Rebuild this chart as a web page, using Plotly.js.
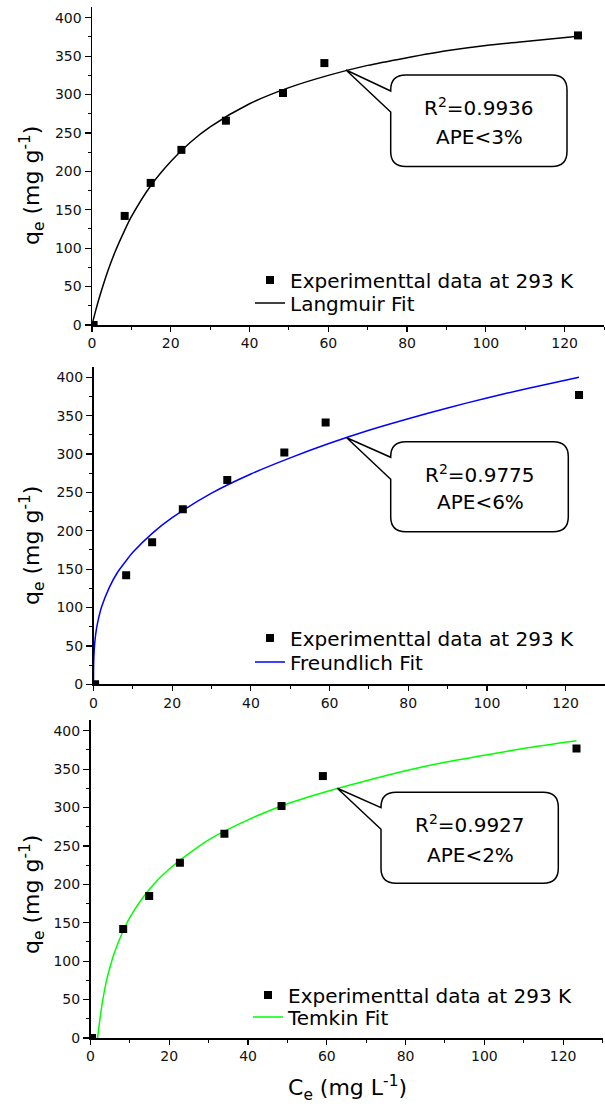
<!DOCTYPE html>
<html>
<head>
<meta charset="utf-8">
<script src="https://cdn.plot.ly/plotly-3.0.1.min.js"></script>
<style>html,body{margin:0;padding:0;background:#fff;}#chart{width:605px;height:1108px;}</style>
</head>
<body>
<div id="chart"></div>
<script>
// ---- data ----
const ceData = [0.4, 8.3, 14.9, 22.7, 34.0, 48.5, 59.0, 123.4];
const qeData = [0, 142, 185, 228, 266, 302, 341, 377];

const langCe = [0, 1, 2, 4, 6, 8, 10, 15, 20, 25, 30, 40, 50, 60, 70, 80, 90, 100, 110, 123.4];
const langQe = [0, 20, 38, 70, 97, 120, 141, 182, 213, 238, 258, 288, 309, 325, 338, 348, 357, 364, 369, 376];

const freCe = [0, 0.02, 0.1, 0.3, 0.6, 1, 2, 4, 6, 8, 10, 15, 20, 30, 40, 50, 60, 70, 80, 90, 100, 110, 123.4];
const freQe = [0, 21, 36, 53, 67, 79, 100, 126, 145, 159, 172, 197, 217, 249, 274, 295, 314, 331, 346, 360, 373, 385, 400];

const temCe = [1.81, 2, 3, 4, 5, 6, 8, 10, 15, 20, 30, 40, 50, 60, 70, 80, 90, 100, 110, 123.4];
const temQe = [0, 9, 46, 73, 93, 110, 136, 157, 194, 220, 258, 284, 305, 321, 335, 348, 359, 368, 377, 387];

const dataLabel = "Experimenttal data at 293 K";
const fitLabels = ["Langmuir Fit", "Freundlich Fit", "Temkin Fit"];
const fitColors = ["#000000", "#0000ff", "#00ff00"];
const statR2 = ["0.9936", "0.9775", "0.9927"];
const statAPE = ["3%", "6%", "2%"];
const yTickVals = [0, 50, 100, 150, 200, 250, 300, 350, 400];
const xTickVals = [0, 20, 40, 60, 80, 100, 120];

// ---- layout helpers ----
const W = 605, H = 1108;
const FONT = "DejaVu Sans, Arial, sans-serif";
function px(x) { return x / W; }
function py(y) { return 1 - y / H; }

const fitX = [langCe, freCe, temCe];
const fitY = [langQe, freQe, temQe];

const traces = [];
for (let i = 0; i < 3; i++) {
  const xa = i === 0 ? 'x' : 'x' + (i + 1);
  const ya = i === 0 ? 'y' : 'y' + (i + 1);
  const lgA = i === 0 ? 'legend' : 'legend' + (2 * i + 1);
  const lgB = 'legend' + (2 * i + 2);
  traces.push({
    x: fitX[i], y: fitY[i], xaxis: xa, yaxis: ya,
    type: 'scatter', mode: 'lines', name: fitLabels[i],
    line: { color: fitColors[i], width: 1.5, shape: 'spline', smoothing: 0.8 },
    legend: lgB, hoverinfo: 'skip'
  });
  traces.push({
    x: ceData, y: qeData, xaxis: xa, yaxis: ya,
    type: 'scatter', mode: 'markers', name: dataLabel,
    marker: { symbol: 'square', size: 8, color: '#000' },
    legend: lgA, hoverinfo: 'skip'
  });
}

function xAxis(dom, anchor) {
  return {
    domain: dom, anchor: anchor, range: [0, 130],
    showline: true, linecolor: '#000', linewidth: 1.5,
    showgrid: false, zeroline: false,
    ticks: 'outside', ticklen: 5, tickwidth: 1.2, tickcolor: '#000',
    tickvals: xTickVals, ticktext: xTickVals.map(String),
    tickfont: { family: FONT, size: 14, color: '#111' },
    minor: { ticks: 'outside', ticklen: 3, tickwidth: 1, tickcolor: '#000', dtick: 10, tick0: 0, showgrid: false }
  };
}
function yAxis(dom, anchor) {
  return {
    domain: dom, anchor: anchor, range: [0, 414],
    showline: true, linecolor: '#000', linewidth: 1.5,
    showgrid: false, zeroline: false,
    ticks: 'outside', ticklen: 6, tickwidth: 1.2, tickcolor: '#000',
    tickvals: yTickVals, ticktext: yTickVals.map(String),
    tickfont: { family: FONT, size: 14, color: '#111' },
    minor: { ticks: 'outside', ticklen: 3, tickwidth: 1, tickcolor: '#000', dtick: 25, tick0: 0, showgrid: false }
  };
}

// panel pixel geometry
const panels = [
  { xl: 92, xr: 604, yt: 7, yb: 325, yTitle: 186, leg1: 280, leg2: 303, legX: 250,
    box: { L: 390.7, T: 75, R: 567, B: 166.5, tipX: 346, tipY: 70, j1: 91, j2: 112 }, t1: 107, t2: 137, tx: 479 },
  { xl: 93.5, xr: 605, yt: 366.5, yb: 684.3, yTitle: 546, leg1: 638, leg2: 662, legX: 250,
    box: { L: 390.7, T: 441.7, R: 568.3, B: 531.7, tipX: 346.7, tipY: 437.7, j1: 457.3, j2: 479.3 }, t1: 474, t2: 502, tx: 480 },
  { xl: 90.5, xr: 602.5, yt: 720, yb: 1038, yTitle: 895, leg1: 995, leg2: 1017, legX: 248,
    box: { L: 381, T: 792.3, R: 558.3, B: 883.3, tipX: 337.3, tipY: 788.3, j1: 807.7, j2: 829.3 }, t1: 824, t2: 855, tx: 470 }
];

const layout = {
  width: W, height: H,
  margin: { l: 0, r: 0, t: 0, b: 0 },
  paper_bgcolor: '#fff', plot_bgcolor: 'rgba(0,0,0,0)',
  font: { family: FONT, color: '#000' },
  showlegend: true,
  shapes: [], annotations: []
};

panels.forEach((p, i) => {
  const sfx = i === 0 ? '' : String(i + 1);
  layout['xaxis' + sfx] = xAxis([px(p.xl), px(p.xr)], 'y' + sfx);
  layout['yaxis' + sfx] = yAxis([py(p.yb), py(p.yt)], 'x' + sfx);

  const lgA = i === 0 ? 'legend' : 'legend' + (2 * i + 1);
  const lgB = 'legend' + (2 * i + 2);
  const legBase = { xref: 'paper', yref: 'paper', xanchor: 'left', yanchor: 'middle',
    bgcolor: 'rgba(0,0,0,0)', borderwidth: 0, font: { family: FONT, size: 20, color: '#000' } };
  layout[lgA] = Object.assign({}, legBase, { x: px(p.legX), y: py(p.leg1) });
  layout[lgB] = Object.assign({}, legBase, { x: px(p.legX), y: py(p.leg2) });

  // callout bubble
  const b = p.box, r = 15;
  const P = (x, y) => px(x) + ',' + py(y);
  const path = 'M' + P(b.L, b.j2) +
    ' L' + P(b.L, b.B - r) + ' Q' + P(b.L, b.B) + ' ' + P(b.L + r, b.B) +
    ' L' + P(b.R - r, b.B) + ' Q' + P(b.R, b.B) + ' ' + P(b.R, b.B - r) +
    ' L' + P(b.R, b.T + r) + ' Q' + P(b.R, b.T) + ' ' + P(b.R - r, b.T) +
    ' L' + P(b.L + r, b.T) + ' Q' + P(b.L, b.T) + ' ' + P(b.L, b.T + r) +
    ' L' + P(b.L, b.j1) + ' L' + P(b.tipX, b.tipY) + ' Z';
  layout.shapes.push({ type: 'path', xref: 'paper', yref: 'paper', path: path,
    line: { color: '#000', width: 1.5 }, fillcolor: '#fff', layer: 'above' });

  layout.annotations.push({ xref: 'paper', yref: 'paper', x: px(p.tx), y: py(p.t1),
    xanchor: 'center', yanchor: 'middle', showarrow: false,
    text: 'R<sup>2</sup>=' + statR2[i], font: { family: FONT, size: 20, color: '#000' } });
  layout.annotations.push({ xref: 'paper', yref: 'paper', x: px(p.tx), y: py(p.t2),
    xanchor: 'center', yanchor: 'middle', showarrow: false,
    text: 'APE&lt;' + statAPE[i], font: { family: FONT, size: 20, color: '#000' } });

  // y axis title
  layout.annotations.push({ xref: 'paper', yref: 'paper', x: px(32), y: py(p.yTitle),
    xanchor: 'center', yanchor: 'middle', showarrow: false, textangle: -90,
    text: 'q<sub>e</sub> (mg g<sup>-1</sup>)', font: { family: FONT, size: 22, color: '#000' } });
});

layout.annotations.push({ xref: 'paper', yref: 'paper', x: px(347), y: py(1088),
  xanchor: 'center', yanchor: 'middle', showarrow: false,
  text: 'C<sub>e</sub> (mg L<sup>-1</sup>)', font: { family: FONT, size: 22, color: '#000' } });

Plotly.newPlot('chart', traces, layout, { displayModeBar: false, staticPlot: true });
</script>
</body>
</html>
